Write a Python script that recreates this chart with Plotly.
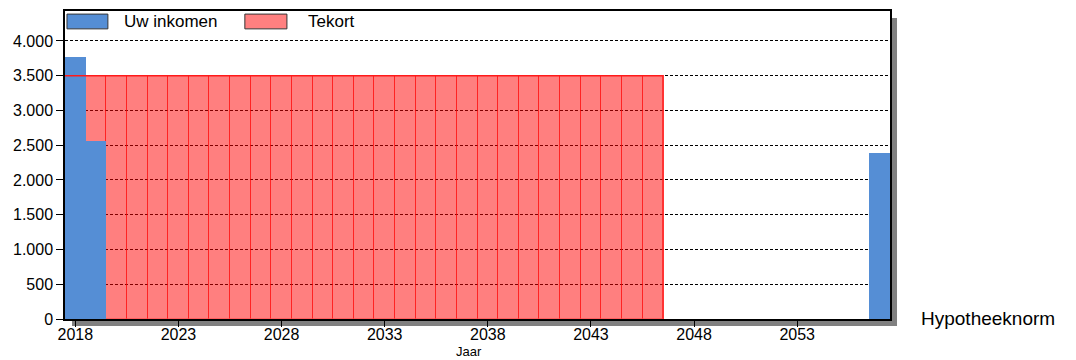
import plotly.graph_objects as go

# Years shown on the horizontal axis
years = [2018, 2019, 2020, 2021, 2022, 2023, 2024, 2025, 2026, 2027,
         2028, 2029, 2030, 2031, 2032, 2033, 2034, 2035, 2036, 2037,
         2038, 2039, 2040, 2041, 2042, 2043, 2044, 2045, 2046, 2047,
         2048, 2049, 2050, 2051, 2052, 2053, 2054, 2055, 2056, 2057]

# Monthly income per year (None = no value)
income = [3770, 2560, 0, 0, 0, 0, 0, 0, 0, 0,
          0, 0, 0, 0, 0, 0, 0, 0, 0, 0,
          0, 0, 0, 0, 0, 0, 0, 0, 0, None,
          None, None, None, None, None, None, None, None, None, 2385]

# Mortgage norm per year; the part not covered by income is the shortfall
norm = [3500, 3500, 3500, 3500, 3500, 3500, 3500, 3500, 3500, 3500,
        3500, 3500, 3500, 3500, 3500, 3500, 3500, 3500, 3500, 3500,
        3500, 3500, 3500, 3500, 3500, 3500, 3500, 3500, 3500, None,
        None, None, None, None, None, None, None, None, None, None]

y_ticks = [0, 500, 1000, 1500, 2000, 2500, 3000, 3500, 4000]
x_ticks = [2018, 2023, 2028, 2033, 2038, 2043, 2048, 2053]

series_names = ["Uw inkomen", "Tekort"]
blue = "#558ED5"
red_fill = "rgba(255,0,0,0.5)"

fig = go.Figure()

fig.add_trace(go.Bar(
    x=years, y=norm, width=1, name=series_names[1],
    marker=dict(color=red_fill, line=dict(color="rgba(255,0,0,0.5)", width=1)),
    showlegend=False,
))
fig.add_trace(go.Bar(
    x=years, y=income, width=1, name=series_names[0],
    marker=dict(color=blue, line=dict(width=0)),
    showlegend=False,
))

# Outline of the norm level across the years it applies
norm_years = [yr for yr, v in zip(years, norm) if v is not None]
norm_level = max(v for v in norm if v is not None)
fig.add_trace(go.Scatter(
    x=[norm_years[0] - 0.5, norm_years[-1] + 0.5, norm_years[-1] + 0.5],
    y=[norm_level, norm_level, 0],
    mode="lines", line=dict(color="#ff1a1a", width=1.5),
    showlegend=False, hoverinfo="skip",
))

font_family = "Arial, Liberation Sans, sans-serif"

shapes = [
    # drop shadow behind the plot frame
    dict(type="rect", xref="paper", yref="paper", x0=0.0085, x1=1.0085,
         y0=-0.0226, y1=0.977, fillcolor="#808080", line=dict(width=0),
         layer="below"),
    dict(type="rect", xref="paper", yref="paper", x0=0, x1=1, y0=0, y1=1,
         fillcolor="white", line=dict(width=0), layer="below"),
    # legend swatches
    dict(type="rect", xref="paper", yref="paper", x0=0.0024, x1=0.052,
         y0=0.942, y1=0.990, fillcolor=blue, line=dict(color="#333333", width=1)),
    dict(type="rect", xref="paper", yref="paper", x0=0.218, x1=0.269,
         y0=0.942, y1=0.990, fillcolor="#ff8080", line=dict(color="#333333", width=1)),
]

annotations = [
    dict(text=series_names[0], xref="paper", yref="paper", x=0.069, y=0.966,
         xanchor="left", yanchor="middle", showarrow=False,
         font=dict(size=17, color="black", family=font_family)),
    dict(text=series_names[1], xref="paper", yref="paper", x=0.292, y=0.966,
         xanchor="left", yanchor="middle", showarrow=False,
         font=dict(size=17, color="black", family=font_family)),
    dict(text="Jaar", xref="paper", yref="paper", x=0.49, y=-0.106,
         xanchor="center", yanchor="middle", showarrow=False,
         font=dict(size=13, color="black", family=font_family)),
    dict(text="Hypotheeknorm", xref="paper", yref="paper", x=1.035, y=0.003,
         xanchor="left", yanchor="middle", showarrow=False,
         font=dict(size=19, color="black", family=font_family)),
]

fig.update_layout(
    width=1076, height=360,
    margin=dict(l=65, r=186, t=9, b=41),
    paper_bgcolor="white", plot_bgcolor="rgba(0,0,0,0)",
    barmode="overlay", bargap=0,
    separators=",.",
    font=dict(family=font_family, size=16, color="black"),
    shapes=shapes, annotations=annotations,
    showlegend=False,
)

fig.update_xaxes(
    range=[2017.5, 2057.5], tickvals=x_ticks, tickformat="d",
    ticks="outside", ticklen=6, tickcolor="black", tickwidth=1,
    ticklabelstandoff=-6,
    showgrid=False, zeroline=False,
    showline=True, linecolor="black", linewidth=1.5, mirror=True,
    tickfont=dict(size=16),
)
fig.update_yaxes(
    range=[0, 4430], tickvals=y_ticks, tickformat=",d",
    ticks="outside", ticklen=7, tickcolor="black", tickwidth=1,
    showgrid=True, gridcolor="black", gridwidth=1, griddash="3px,2px",
    zeroline=False,
    showline=True, linecolor="black", linewidth=1.5, mirror=True,
    tickfont=dict(size=16),
)

fig.write_html("out.html")
